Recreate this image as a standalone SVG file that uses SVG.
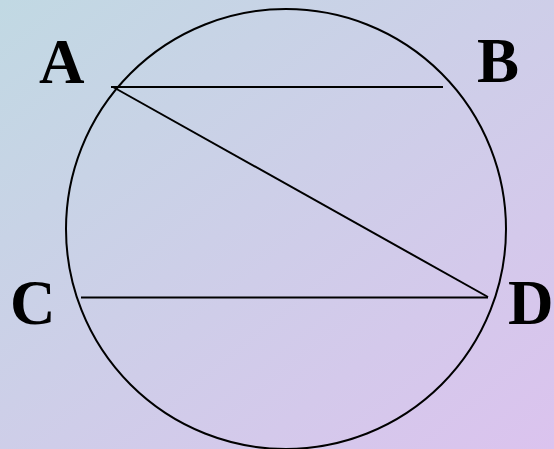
<svg xmlns="http://www.w3.org/2000/svg" width="554" height="449" viewBox="0 0 554 449">
<defs>
<linearGradient id="bg" x1="0" y1="0" x2="1" y2="1">
<stop offset="0" stop-color="#c1d9e3"/>
<stop offset="1" stop-color="#dbc3ee"/>
</linearGradient>
<style>
.lbl{font-family:"Liberation Serif","Times New Roman",serif;font-weight:bold;font-size:63px;fill:#000}
.ln{stroke:#000;stroke-width:2;fill:none}
</style>
</defs>
<rect width="554" height="449" fill="url(#bg)"/>
<circle class="ln" cx="286" cy="229" r="220"/>
<g id="connectors">
<line class="ln" x1="111" y1="87" x2="443" y2="87"/>
<line class="ln" x1="113" y1="87" x2="488" y2="297"/>
<line class="ln" x1="81" y1="297.5" x2="488" y2="297.5"/>
</g>
<g id="A"><text class="lbl" x="39" y="83">A</text></g>
<g id="B"><text class="lbl" x="477" y="82">B</text></g>
<g id="C"><text class="lbl" x="10" y="324">C</text></g>
<g id="D"><text class="lbl" x="508" y="324">D</text></g>
</svg>
